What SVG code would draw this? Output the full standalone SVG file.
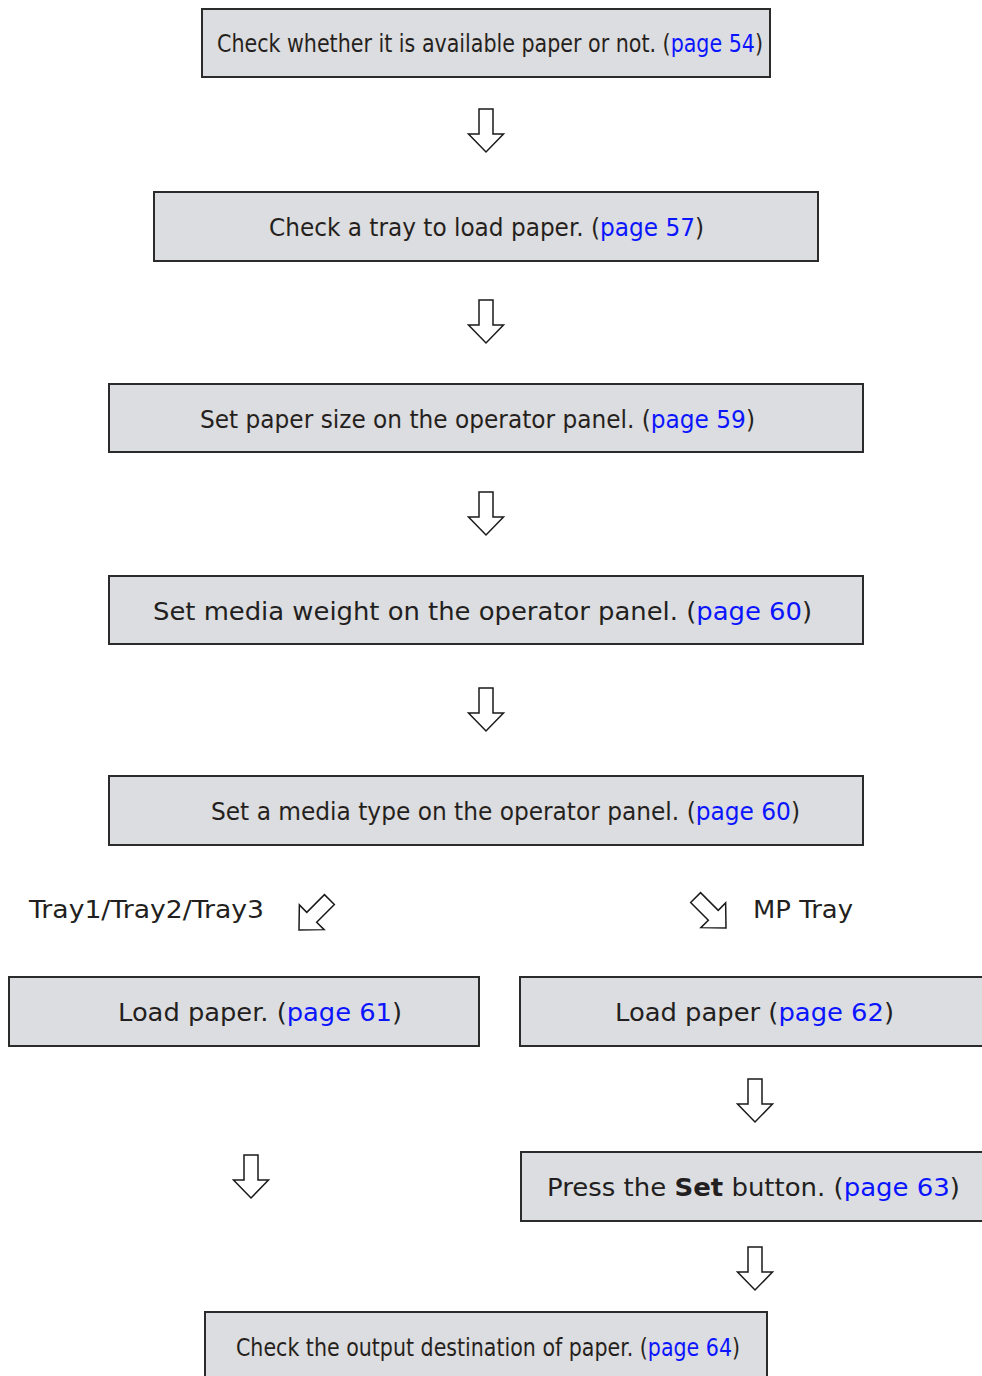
<svg xmlns="http://www.w3.org/2000/svg" width="982" height="1376" viewBox="0 0 982 1376">
<defs>
<style>
.box{fill:#dcdde0;stroke:#2b2b2b;stroke-width:2}
.t{font-family:"DejaVu Sans","Verdana",sans-serif;font-size:24px;fill:#231f20}
.lk{fill:#0a14ff}
.arr{fill:#fff;stroke:#1a1a1a;stroke-width:1.5;stroke-linejoin:miter}
</style>
<linearGradient id="g1" gradientUnits="userSpaceOnUse" x1="0" y1="0" x2="982" y2="0">
<stop offset="0.68177" stop-color="#231f20"/><stop offset="0.68177" stop-color="#0a14ff"/>
<stop offset="0.76782" stop-color="#0a14ff"/><stop offset="0.76782" stop-color="#231f20"/>
</linearGradient>
<linearGradient id="g2" gradientUnits="userSpaceOnUse" x1="0" y1="0" x2="982" y2="0">
<stop offset="0.61100" stop-color="#231f20"/><stop offset="0.61100" stop-color="#0a14ff"/>
<stop offset="0.70672" stop-color="#0a14ff"/><stop offset="0.70672" stop-color="#231f20"/>
</linearGradient>
<linearGradient id="g3" gradientUnits="userSpaceOnUse" x1="0" y1="0" x2="982" y2="0">
<stop offset="0.66242" stop-color="#231f20"/><stop offset="0.66242" stop-color="#0a14ff"/>
<stop offset="0.75967" stop-color="#0a14ff"/><stop offset="0.75967" stop-color="#231f20"/>
</linearGradient>
<linearGradient id="g5" gradientUnits="userSpaceOnUse" x1="0" y1="0" x2="982" y2="0">
<stop offset="0.70876" stop-color="#231f20"/><stop offset="0.70876" stop-color="#0a14ff"/>
<stop offset="0.80499" stop-color="#0a14ff"/><stop offset="0.80499" stop-color="#231f20"/>
</linearGradient>
<linearGradient id="g9" gradientUnits="userSpaceOnUse" x1="0" y1="0" x2="982" y2="0">
<stop offset="0.65835" stop-color="#231f20"/><stop offset="0.65835" stop-color="#0a14ff"/>
<stop offset="0.74542" stop-color="#0a14ff"/><stop offset="0.74542" stop-color="#231f20"/>
</linearGradient>
<path id="da" d="M-7,-43 L7,-43 L7,-18 L17.5,-18 L0,0 L-17.5,-18 L-7,-18 Z"/>
</defs>
<rect width="982" height="1376" fill="#fff"/>

<g id="n1"><rect class="box" x="202" y="9" width="568" height="68"/>
<text class="t" fill="url(#g1)" style="fill:url(#g1)" x="217" y="52" textLength="546" lengthAdjust="spacingAndGlyphs">Check whether it is available paper or not. (page 54)</text></g>

<g id="n2"><rect class="box" x="154" y="192" width="664" height="69"/>
<text class="t" style="fill:url(#g2)" x="269" y="236" textLength="435" lengthAdjust="spacingAndGlyphs">Check a tray to load paper. (page 57)</text></g>

<g id="n3"><rect class="box" x="109" y="384" width="754" height="68"/>
<text class="t" style="fill:url(#g3)" x="200" y="428" textLength="555" lengthAdjust="spacingAndGlyphs">Set paper size on the operator panel. (page 59)</text></g>

<g id="n4"><rect class="box" x="109" y="576" width="754" height="68"/>
<text class="t" x="153" y="620" textLength="659" lengthAdjust="spacingAndGlyphs">Set media weight on the operator panel. (<tspan class="lk">page 60</tspan>)</text></g>

<g id="n5"><rect class="box" x="109" y="776" width="754" height="69"/>
<text class="t" style="fill:url(#g5)" x="211" y="820" textLength="589" lengthAdjust="spacingAndGlyphs">Set a media type on the operator panel. (page 60)</text></g>

<g id="lbl1"><text class="t" x="29" y="918" textLength="235" lengthAdjust="spacingAndGlyphs">Tray1/Tray2/Tray3</text></g>
<g id="lbl2"><text class="t" x="753" y="918" textLength="100" lengthAdjust="spacingAndGlyphs">MP Tray</text></g>

<g id="n6"><rect class="box" x="9" y="977" width="470" height="69"/>
<text class="t" x="118" y="1021" textLength="284" lengthAdjust="spacingAndGlyphs">Load paper. (<tspan class="lk">page 61</tspan>)</text></g>

<g id="n7"><rect class="box" x="520" y="977" width="470" height="69"/>
<text class="t" x="615" y="1021" textLength="279" lengthAdjust="spacingAndGlyphs">Load paper (<tspan class="lk">page 62</tspan>)</text></g>

<g id="n8"><rect class="box" x="521" y="1152" width="470" height="69"/>
<text class="t" x="547" y="1196" textLength="413" lengthAdjust="spacingAndGlyphs">Press the <tspan font-weight="bold">Set</tspan> button. (<tspan class="lk">page 63</tspan>)</text></g>

<g id="n9"><rect class="box" x="205" y="1312" width="562" height="80"/>
<text class="t" style="fill:url(#g9)" x="236" y="1356" textLength="504" lengthAdjust="spacingAndGlyphs">Check the output destination of paper. (page 64)</text></g>

<g id="connectors">
<use href="#da" class="arr" transform="translate(486,152)"/>
<use href="#da" class="arr" transform="translate(486,343)"/>
<use href="#da" class="arr" transform="translate(486,535)"/>
<use href="#da" class="arr" transform="translate(486,731)"/>
<use href="#da" class="arr" transform="translate(299,930) rotate(45)"/>
<use href="#da" class="arr" transform="translate(726,928) rotate(-45)"/>
<use href="#da" class="arr" transform="translate(755,1122)"/>
<use href="#da" class="arr" transform="translate(251,1198)"/>
<use href="#da" class="arr" transform="translate(755,1290)"/>
</g>
</svg>
